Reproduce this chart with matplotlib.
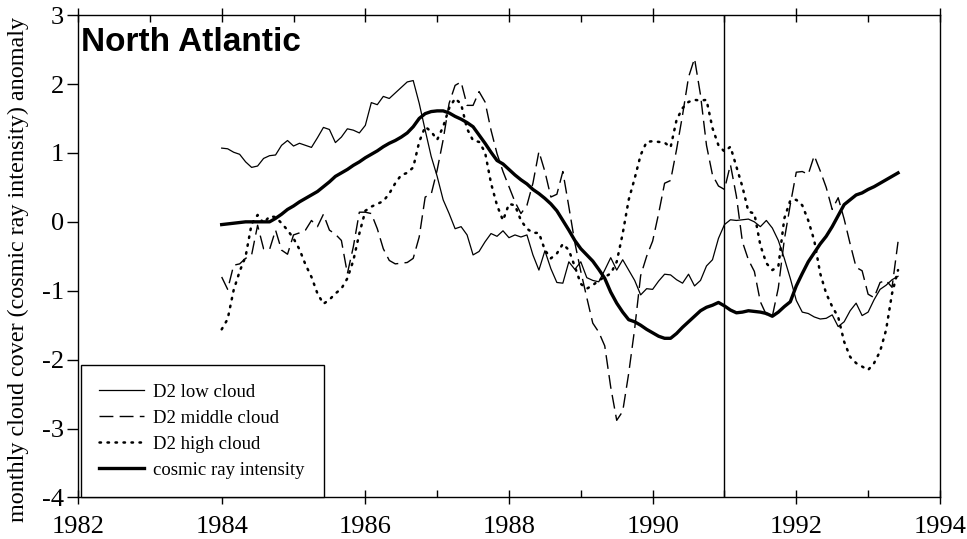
import numpy as np
import matplotlib.pyplot as plt

# monthly anomalies, Jan 1984 .. Jun 1993
start_year = 1984
low_cloud = [1.07, 1.06, 1.01, 0.98, 0.87, 0.79, 0.81, 0.92, 0.96, 0.97,
             1.11, 1.18, 1.10, 1.14, 1.11, 1.08, 1.22, 1.37, 1.34, 1.15,
             1.23, 1.35, 1.33, 1.29, 1.40, 1.73, 1.70, 1.82, 1.79, 1.87,
             1.95, 2.03, 2.05, 1.72, 1.33, 0.95, 0.66, 0.32, 0.12, -0.10,
             -0.07, -0.19, -0.48, -0.43, -0.29, -0.17, -0.21, -0.13, -0.23, -0.19,
             -0.22, -0.19, -0.48, -0.70, -0.42, -0.68, -0.88, -0.89, -0.58, -0.69,
             -0.58, -0.81, -0.85, -0.87, -0.70, -0.52, -0.70, -0.55, -0.70, -0.85,
             -1.06, -0.97, -0.98, -0.86, -0.76, -0.77, -0.84, -0.89, -0.76, -0.93,
             -0.85, -0.64, -0.55, -0.24, -0.04, 0.03, 0.02, 0.03, 0.04, 0.00,
             -0.07, 0.02, -0.09, -0.27, -0.53, -0.82, -1.14, -1.31, -1.33, -1.38,
             -1.41, -1.40, -1.35, -1.52, -1.45, -1.29, -1.18, -1.36, -1.31, -1.13,
             -0.98, -0.92, -0.84, -0.79]
middle_cloud = [-0.80, -0.98, -0.63, -0.61, -0.53, -0.48, -0.05, -0.39, -0.40, -0.12,
                -0.41, -0.47, -0.19, -0.16, -0.12, 0.02, -0.07, 0.11, -0.12, -0.18,
                -0.27, -0.75, -0.36, 0.14, 0.14, 0.12, -0.10, -0.39, -0.56, -0.61,
                -0.60, -0.59, -0.53, -0.22, 0.36, 0.40, 0.75, 1.19, 1.72, 1.98,
                2.03, 1.69, 1.69, 1.89, 1.74, 1.33, 0.99, 0.73, 0.51, 0.29,
                0.12, 0.24, 0.56, 1.02, 0.73, 0.36, 0.40, 0.73, 0.22, -0.30,
                -0.72, -1.10, -1.47, -1.60, -1.80, -2.40, -2.88, -2.75, -2.20, -1.55,
                -0.78, -0.50, -0.28, 0.12, 0.56, 0.60, 1.05, 1.55, 2.10, 2.37,
                1.84, 1.11, 0.68, 0.52, 0.47, 0.83, 0.37, -0.29, -0.55, -0.72,
                -1.16, -1.35, -1.37, -0.96, -0.26, 0.25, 0.72, 0.73, 0.69, 0.96,
                0.74, 0.50, 0.18, 0.35, 0.04, -0.32, -0.66, -0.71, -1.05, -1.10,
                -0.88, -0.85, -0.95, -0.29]
high_cloud = [-1.56, -1.41, -0.99, -0.72, -0.50, -0.03, 0.10, -0.02, 0.08, 0.07,
              -0.02, -0.12, -0.24, -0.40, -0.62, -0.80, -1.04, -1.19, -1.13, -1.04,
              -0.97, -0.82, -0.56, -0.17, 0.16, 0.22, 0.26, 0.30, 0.41, 0.56,
              0.68, 0.71, 0.79, 1.16, 1.38, 1.31, 1.19, 1.38, 1.65, 1.79,
              1.71, 1.35, 1.18, 1.16, 1.01, 0.56, 0.24, 0.02, 0.26, 0.24,
              0.02, -0.10, -0.16, -0.16, -0.41, -0.53, -0.46, -0.32, -0.41, -0.65,
              -0.90, -0.97, -0.92, -0.85, -0.80, -0.75, -0.58, -0.17, 0.32, 0.63,
              0.97, 1.16, 1.17, 1.16, 1.15, 1.08, 1.48, 1.65, 1.74, 1.77,
              1.76, 1.77, 1.36, 1.11, 1.02, 1.09, 0.80, 0.51, 0.15, 0.12,
              -0.34, -0.60, -0.70, -0.65, 0.05, 0.31, 0.32, 0.24, 0.02, -0.27,
              -0.75, -1.04, -1.23, -1.38, -1.74, -1.96, -2.05, -2.10, -2.15, -2.05,
              -1.88, -1.57, -1.04, -0.70]
cosmic_ray = [-0.04, -0.03, -0.02, -0.01, 0.00, 0.00, 0.00, 0.00, 0.00, 0.05,
              0.11, 0.18, 0.23, 0.29, 0.34, 0.39, 0.44, 0.51, 0.58, 0.66,
              0.71, 0.76, 0.82, 0.87, 0.93, 0.98, 1.03, 1.09, 1.14, 1.18,
              1.23, 1.29, 1.38, 1.50, 1.57, 1.60, 1.61, 1.61, 1.58, 1.53,
              1.49, 1.44, 1.38, 1.26, 1.14, 1.01, 0.89, 0.84, 0.76, 0.68,
              0.61, 0.55, 0.47, 0.41, 0.34, 0.26, 0.16, 0.02, -0.12, -0.27,
              -0.39, -0.48, -0.57, -0.69, -0.82, -1.02, -1.18, -1.31, -1.42, -1.45,
              -1.50, -1.56, -1.61, -1.66, -1.69, -1.69, -1.62, -1.53, -1.45, -1.37,
              -1.29, -1.24, -1.21, -1.17, -1.22, -1.28, -1.32, -1.31, -1.29, -1.30,
              -1.31, -1.33, -1.37, -1.31, -1.23, -1.16, -0.93, -0.75, -0.58, -0.45,
              -0.32, -0.21, -0.07, 0.09, 0.25, 0.32, 0.39, 0.42, 0.47, 0.51,
              0.56, 0.61, 0.66, 0.71]
marker_year = 1991
x_ticks = [1982, 1984, 1986, 1988, 1990, 1992, 1994]
y_ticks = [-4, -3, -2, -1, 0, 1, 2, 3]

plt.rcParams["font.family"] = ["Liberation Serif", "DejaVu Serif"]
plt.rcParams["axes.unicode_minus"] = False

t = start_year + np.arange(len(low_cloud)) / 12.0

fig = plt.figure(figsize=(9.67, 5.39), dpi=100)
ax = fig.add_axes([0.0807, 0.077, 0.8913, 0.895])

ax.plot(t, low_cloud, color="black", lw=0.9, label="D2 low cloud")
ax.plot(t, middle_cloud, color="black", lw=1.0, linestyle=(0, (10, 4.5)),
        label="D2 middle cloud")
ax.plot(t, high_cloud, color="black", lw=1.8, linestyle=(0, (0.6, 2.6)),
        dash_capstyle="round", label="D2 high cloud")
ax.plot(t, cosmic_ray, color="black", lw=2.4, label="cosmic ray intensity")
ax.axvline(marker_year, color="black", lw=1.0)

ax.set_xlim(1982, 1994)
ax.set_ylim(-4, 3)
ax.set_xticks(x_ticks)
ax.set_xticks(np.arange(1983, 1994, 2), minor=True)
ax.set_yticks(y_ticks)
ax.tick_params(axis="x", which="major", direction="inout", length=10, width=1,
               labelsize=19, pad=8, top=True)
ax.tick_params(axis="x", which="minor", direction="in", length=5, width=1, top=True)
ax.tick_params(axis="y", which="major", direction="out", length=8, width=1,
               labelsize=19, pad=2)
for sp in ax.spines.values():
    sp.set_linewidth(1.0)

ax.set_ylabel("monthly cloud cover (cosmic ray intensity) anomaly", fontsize=17.4)
ax.yaxis.set_label_coords(-0.057, 0.472)
ax.text(0.004, 0.975, "North Atlantic", transform=ax.transAxes, ha="left", va="top",
        fontsize=24, fontweight="bold", family="Liberation Sans")

leg = ax.legend(loc="lower left", bbox_to_anchor=(0.003, 0.0), borderaxespad=0,
                fontsize=13.5, fancybox=False, framealpha=1, edgecolor="black",
                handlelength=2.4, handletextpad=0.48, labelspacing=0.47,
                borderpad=1.0)
leg.get_frame().set_linewidth(1.0)

fig.savefig("out.png", dpi=100)
